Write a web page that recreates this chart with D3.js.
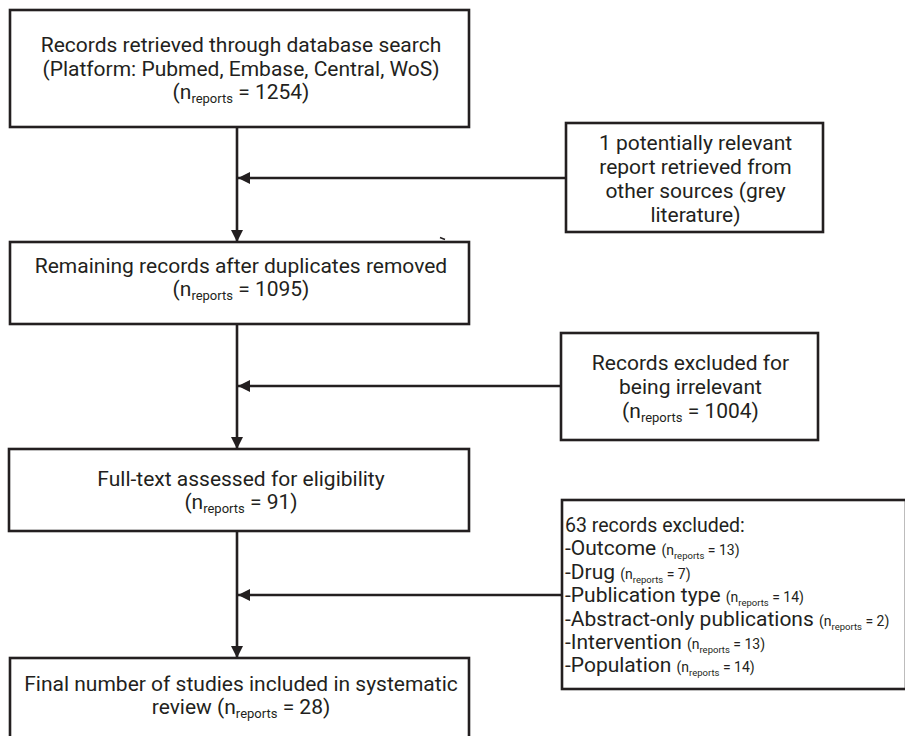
<!DOCTYPE html>
<html>
<head>
<meta charset="utf-8">
<script src="https://cdn.jsdelivr.net/npm/d3@7"></script>
<style>
  html, body { margin: 0; padding: 0; background: #fff; }
  svg { display: block; }
  text { font-family: Roboto, "Noto Sans", sans-serif; fill: #231f20; }
</style>
</head>
<body>
<svg id="chart" width="905" height="736"></svg>
<script>
// ---- Data ----
const mainSteps = [
  "Records retrieved through database search|(Platform: Pubmed, Embase, Central, WoS)",
  "Remaining records after duplicates removed",
  "Full-text assessed for eligibility",
  "Final number of studies included in systematic|review"
];
const mainCounts = [1254, 1095, 91, 28];
const sideNotes = [
  "1 potentially relevant|report retrieved from|other sources (grey|literature)",
  "Records excluded for|being irrelevant"
];
const sideCounts = [null, 1004];
const excludedTotal = 63;
const exclusionReasons = ["Outcome", "Drug", "Publication type", "Abstract-only publications", "Intervention", "Population"];
const exclusionCounts = [13, 7, 14, 2, 13, 14];

// ---- Layout ----
const svg = d3.select("#chart");
const ink = "#231f20";
const FS = 21, SUB = 13;

const mainBoxes = [
  [10, 10, 469, 127],
  [10, 242, 469, 324],
  [9, 449, 469, 531],
  [10, 658, 469, 760]
];
const sideBoxes = [
  [566, 123, 823, 232],
  [561, 333, 818, 440]
];
const exclBox = [562, 500, 906, 689];
const spineX = 237;

const defs = svg.append("defs");
defs.append("marker")
  .attr("id", "ah")
  .attr("viewBox", "0 0 12 12")
  .attr("refX", 12).attr("refY", 6)
  .attr("markerWidth", 12).attr("markerHeight", 12)
  .attr("markerUnits", "userSpaceOnUse")
  .attr("orient", "auto")
  .append("path")
  .attr("d", "M0,0 L12,6 L0,12 Z")
  .attr("fill", ink);

function box(b) {
  svg.append("rect")
    .attr("x", b[0]).attr("y", b[1])
    .attr("width", b[2] - b[0]).attr("height", b[3] - b[1])
    .attr("fill", "none").attr("stroke", ink).attr("stroke-width", 2.6);
}

function line(x, y, segs, anchor) {
  const t = svg.append("text")
    .attr("x", x).attr("y", y)
    .attr("text-anchor", anchor || "middle");
  let shifted = 0;
  segs.forEach(sg => {
    const want = sg.sub ? 4 : 0;
    t.append("tspan")
      .attr("dy", want - shifted)
      .attr("font-size", sg.s)
      .text(sg.t);
    shifted = want;
  });
  return t;
}
function nSegs(count, big, subSize) {
  return [
    {t: "(n", s: big},
    {t: "reports", s: subSize, sub: true},
    {t: " = " + count + ")", s: big}
  ];
}

// ---- connectors ----
for (let i = 0; i < mainBoxes.length - 1; i++) {
  svg.append("line")
    .attr("x1", spineX).attr("y1", mainBoxes[i][3])
    .attr("x2", spineX).attr("y2", mainBoxes[i + 1][1])
    .attr("stroke", ink).attr("stroke-width", 2.6)
    .attr("marker-end", "url(#ah)");
}
const sideArrowY = [178, 386, 595];
[sideBoxes[0], sideBoxes[1], exclBox].forEach((b, i) => {
  svg.append("line")
    .attr("x1", b[0]).attr("y1", sideArrowY[i])
    .attr("x2", spineX + 1).attr("y2", sideArrowY[i])
    .attr("stroke", ink).attr("stroke-width", 2.6)
    .attr("marker-end", "url(#ah)");
});
// small stray tick on the second box's top edge
svg.append("path").attr("d", "M440,237.5 L445,239.5").attr("stroke", ink).attr("stroke-width", 1.5);

// ---- boxes ----
mainBoxes.forEach(box);
sideBoxes.forEach(box);
box(exclBox);

// ---- main box text ----
const mainTextY = [[52, 75.5, 99], [272.5, 296], [485.5, 509], [690.5, 714]];
mainSteps.forEach((s, i) => {
  const lines = s.split("|");
  const cx = 241;
  lines.forEach((l, j) => {
    const isLast = j === lines.length - 1;
    if (i === 3 && isLast) {
      line(cx, mainTextY[i][j], [{t: l + " ", s: FS}].concat(nSegs(mainCounts[i], FS, SUB)));
    } else {
      line(cx, mainTextY[i][j], [{t: l, s: FS}]);
    }
  });
  if (i < 3) line(cx, mainTextY[i][lines.length], nSegs(mainCounts[i], FS, SUB));
});

// ---- side notes ----
const sideTextY = [[149.5, 174, 198, 222], [370, 394, 417.5]];
sideNotes.forEach((s, i) => {
  const b = sideBoxes[i];
  const cx = (b[0] + b[2]) / 2 + 1;
  const lines = s.split("|");
  lines.forEach((l, j) => line(cx, sideTextY[i][j], [{t: l, s: FS}]));
  if (sideCounts[i] != null) line(cx, sideTextY[i][lines.length], nSegs(sideCounts[i], FS, SUB));
});

// ---- exclusion list ----
const ex0 = exclBox[0] + 3;
const exY0 = 532, exLH = 23.4;
line(ex0, exY0, [{t: excludedTotal + " records excluded:", s: 19.5}], "start");
exclusionReasons.forEach((r, i) => {
  line(ex0, exY0 + exLH * (i + 1), [
    {t: "-" + r + " ", s: FS},
    {t: "(n", s: 14},
    {t: "reports", s: 9.5, sub: true},
    {t: " = " + exclusionCounts[i] + ")", s: 14}
  ], "start");
});
</script>
</body>
</html>
